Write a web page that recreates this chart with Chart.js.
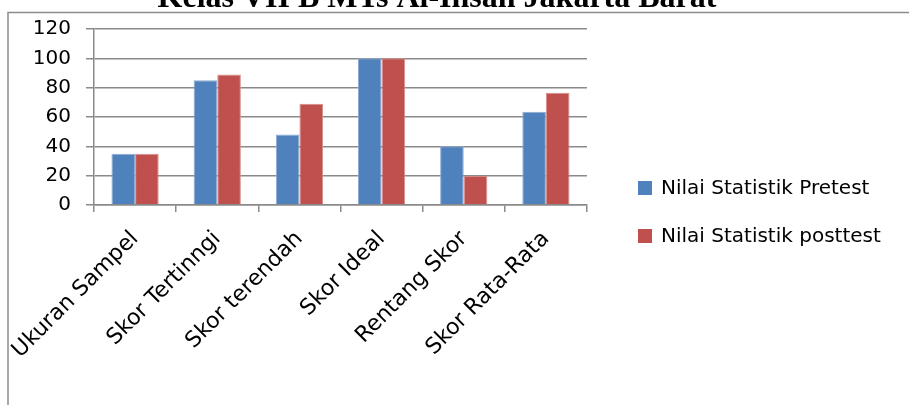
<!DOCTYPE html>
<html>
<head>
<meta charset="utf-8">
<script src="https://cdn.jsdelivr.net/npm/chart.js@4.4.1/dist/chart.umd.min.js"></script>
<style>
  html, body { margin: 0; padding: 0; background: #ffffff; overflow: hidden; }
  #wrap { position: relative; width: 909px; height: 405px; }
  canvas { display: block; }
</style>
</head>
<body>
<div id="wrap"><canvas id="c" width="909" height="405"></canvas></div>
<script>
// Categories and values for the pretest / posttest statistics
const categories = ['Ukuran Sampel', 'Skor Tertinngi', 'Skor terendah', 'Skor Ideal', 'Rentang Skor', 'Skor Rata-Rata'];
const pretestValues = [35, 85, 48, 100, 40, 63.5];
const posttestValues = [35, 89, 69, 100, 20, 76.5];
const seriesNames = ['Nilai Statistik Pretest', 'Nilai Statistik posttest'];
const chartTitle = 'Kelas VII B MTs Al-Ihsan Jakarta Barat';
const yTicks = [0, 20, 40, 60, 80, 100, 120];

const BLUE = '#4f81bd';
const RED = '#c0504d';
const GRID = '#8a8a8a';
const FONT = '"DejaVu Sans", "Open Sans", sans-serif';

// Frame, cropped heading and the side legend are drawn straight on the canvas
const decorations = {
  id: 'decorations',
  beforeDraw(chart) {
    const ctx = chart.ctx;
    ctx.save();
    ctx.fillStyle = '#ffffff';
    ctx.fillRect(0, 0, chart.width, chart.height);
    ctx.strokeStyle = '#8c8c8c';
    ctx.lineWidth = 1.5;
    ctx.strokeRect(8, 12.5, 1200, 1200);
    ctx.restore();
  },
  afterDraw(chart) {
    const ctx = chart.ctx;
    ctx.save();
    // heading, partly above the top edge
    ctx.fillStyle = '#000000';
    ctx.font = 'bold 32px "Liberation Serif", "Times New Roman", serif';
    ctx.textAlign = 'center';
    ctx.textBaseline = 'alphabetic';
    ctx.fillText(chartTitle, 437, 7);
    // legend
    ctx.font = '20px ' + FONT;
    ctx.textAlign = 'left';
    ctx.textBaseline = 'middle';
    chart.data.datasets.forEach((ds, i) => {
      const cy = 188 + i * 48;
      ctx.fillStyle = ds.backgroundColor;
      ctx.fillRect(638, cy - 7, 14, 14);
      ctx.fillStyle = '#000000';
      ctx.fillText(ds.label, 661, cy + 1);
    });
    ctx.restore();
  }
};

new Chart(document.getElementById('c'), {
  type: 'bar',
  data: {
    labels: categories,
    datasets: [
      { label: seriesNames[0], data: pretestValues, backgroundColor: BLUE, borderColor: '#8eaad3', borderWidth: 1 },
      { label: seriesNames[1], data: posttestValues, backgroundColor: RED, borderColor: '#d88f8d', borderWidth: 1 }
    ]
  },
  options: {
    responsive: false,
    devicePixelRatio: 1,
    animation: false,
    events: [],
    layout: { padding: { left: 0, top: 29, right: 322, bottom: 0 } },
    plugins: {
      legend: { display: false },
      title: { display: false },
      tooltip: { enabled: false }
    },
    datasets: {
      bar: { categoryPercentage: 0.575, barPercentage: 1.0 }
    },
    scales: {
      x: {
        afterFit(scale) {
          scale.height = 200;
          // rotated labels may spill past the plot edges; keep the plot fixed
          scale.paddingLeft = 0;
          scale.paddingRight = 0;
        },
        grid: {
          offset: true,
          drawOnChartArea: false,
          drawTicks: true,
          tickLength: 7,
          color: GRID,
          lineWidth: 1.5
        },
        border: { display: true, color: GRID, width: 1.5 },
        ticks: {
          minRotation: 45,
          maxRotation: 45,
          autoSkip: false,
          padding: 14,
          color: '#000000',
          font: { family: FONT, size: 22 }
        }
      },
      y: {
        min: 0,
        max: 120,
        afterFit(scale) { scale.width = 94; },
        afterBuildTicks(scale) { scale.ticks = yTicks.map(v => ({ value: v })); },
        grid: {
          color: GRID,
          lineWidth: 1.5,
          drawTicks: true,
          tickLength: 8
        },
        border: { display: true, color: GRID, width: 1.5 },
        ticks: {
          padding: 15,
          color: '#000000',
          font: { family: FONT, size: 20 }
        }
      }
    }
  },
  plugins: [decorations]
});
</script>
</body>
</html>
